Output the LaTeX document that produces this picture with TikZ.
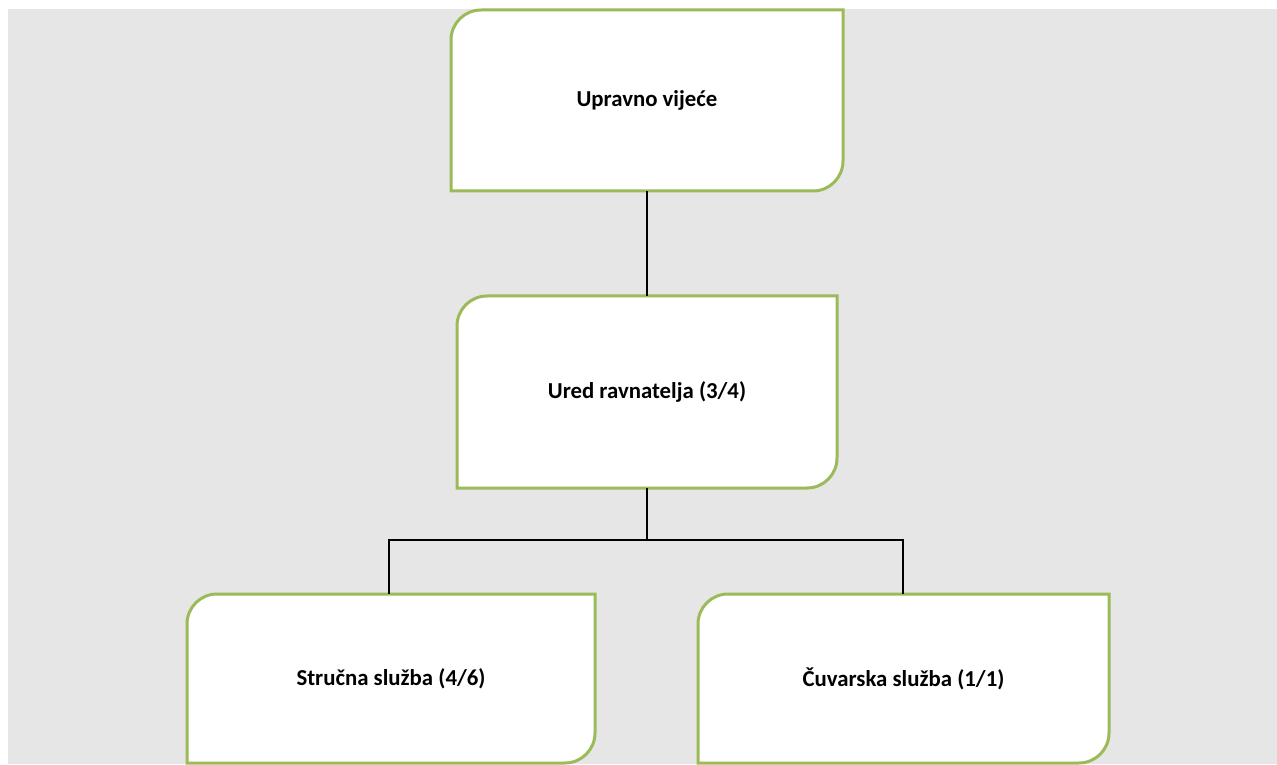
\documentclass[tikz,border=0pt]{standalone}
\usepackage{fontspec}
\setmainfont{Carlito}
\definecolor{bggrey}{HTML}{E6E6E6}
\definecolor{boxgreen}{HTML}{9BBB59}
\tikzset{
  boxline/.style={draw=boxgreen, line width=3pt, fill=white},
  boxtext/.style={draw=none, inner sep=0pt, outer sep=0pt, font=\fontsize{22.8}{27}\selectfont\bfseries, text=black},
  conn/.style={draw=black, line width=1.8pt},
}
\newcommand\orgbox[6]{%
  \draw[boxline] ({#2-#4/2},{#3-#5/2}) -- ({#2-#4/2},{#3+#5/2-30})
    arc[start angle=180,end angle=90,radius=30pt] -- ({#2+#4/2},{#3+#5/2})
    -- ({#2+#4/2},{#3-#5/2+30}) arc[start angle=0,end angle=-90,radius=30pt] -- cycle;
  \node[boxtext, minimum width=#4pt, minimum height=#5pt] (#1) at (#2,#3) {#6};
}
\begin{document}
\begin{tikzpicture}[x=1pt,y=1pt]
\fill[white] (0,0) rectangle (1277,764);
\useasboundingbox (0,0) rectangle (1277,764);
\fill[bggrey] (8,0) rectangle (1277,755);
\orgbox{top}{647}{663.5}{392}{181}{Upravno vijeće}
\orgbox{mid}{647}{372}{380}{192}{Ured ravnatelja (3/4)}
\orgbox{bl}{391}{85.5}{408}{169}{Stručna služba (4/6)}
\orgbox{br}{903.5}{85.5}{411}{169}{Čuvarska služba (1/1)}
\draw[conn] (top.south) -- (mid.north);
\draw[conn] (mid.south) -- ++(0,-52) coordinate (bus);
\draw[conn] (bus) -| ([xshift=-2pt]bl.north);
\draw[conn] (bus) -| ([xshift=-0.5pt]br.north);
\end{tikzpicture}
\end{document}
